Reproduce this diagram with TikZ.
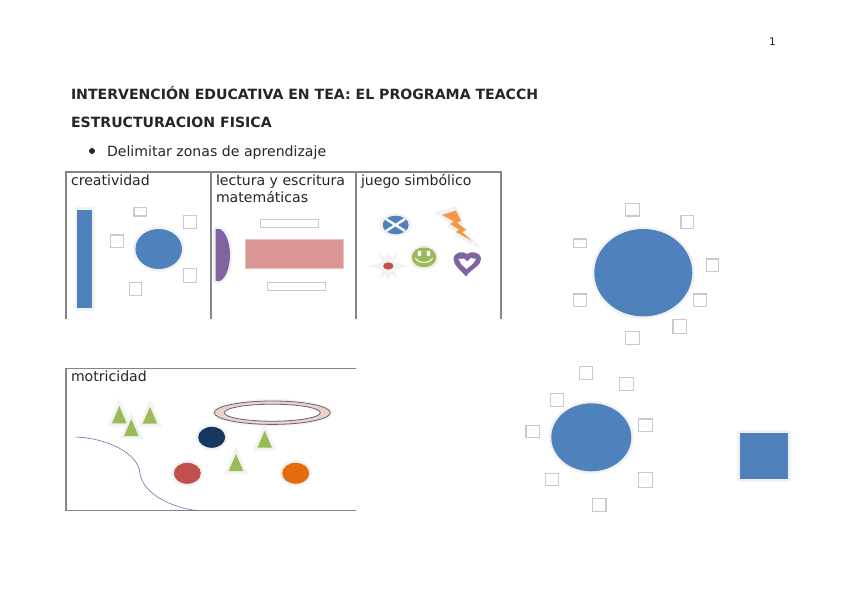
\documentclass[tikz,border=0pt]{standalone}
\usepackage{fontspec}
\setmainfont{DejaVu Sans}
\definecolor{cBlue}{HTML}{4F81BD}
\definecolor{cPurple}{HTML}{8064A2}
\definecolor{cPink}{HTML}{D99694}
\definecolor{cGreen}{HTML}{9BBB59}
\definecolor{cNavy}{HTML}{17375E}
\definecolor{cRed}{HTML}{C0504D}
\definecolor{cOrange}{HTML}{E46C0A}
\definecolor{cBolt}{HTML}{F79646}
\definecolor{cGlow}{HTML}{F2F2F2}
\definecolor{cBox}{HTML}{CACACA}
\definecolor{cRule}{HTML}{858585}
\tikzset{
  txt/.style={anchor=base west,inner sep=0pt,outer sep=0pt,text=black!85,font=\fontsize{14.1}{16}\selectfont},
  ttl/.style={txt,font=\fontsize{14.1}{16}\selectfont\bfseries},
  rulel/.style={draw=cRule,line width=1.2pt},
  bx/.style={draw=cBox,line width=1.3pt,fill=white},
  glow/.style={preaction={draw=cGlow,line width=5pt,line join=round}},
  solid blue/.style={glow,fill=cBlue}
}
\newcommand{\bxr}[4]{\draw[bx] (#1,#3) rectangle (#2,#4);}
\newcommand{\tria}[3]{\draw[draw=cGlow,line width=6pt,line join=miter] (#1,#2) -- (#1-7.3,#3) -- (#1+7.3,#3) -- cycle;\fill[cGreen] (#1,#2) -- (#1-7.3,#3) -- (#1+7.3,#3) -- cycle;}
\begin{document}
\begin{tikzpicture}[x=1pt,y=-1pt]
\useasboundingbox[fill=white] (0,0) rectangle (848,599);
% header text
\node[txt,font=\fontsize{10.5}{12}\selectfont] (pagenum) at (769,45.5) {1};
\node[ttl] (title) at (71,99.5) {INTERVENCIÓN EDUCATIVA EN TEA: EL PROGRAMA TEACCH};
\node[ttl] (sub) at (71,127.5) {ESTRUCTURACION FISICA};
\fill[black!85] (92,151) circle (3pt);
\node[txt] (bullet) at (107,156) {Delimitar zonas de aprendizaje};
% table
\draw[rulel] (66,319) -- (66,172) -- (501,172) -- (501,319);
\draw[rulel] (211,172) -- (211,319);
\draw[rulel] (356,172) -- (356,319);
\node[txt] (l1) at (71,185) {creatividad};
\node[txt] (l2) at (216,185) {lectura y escritura};
\node[txt] (l2b) at (216,202.5) {matemáticas};
\node[txt] (l3) at (361,185) {juego simbólico};
% creatividad
\path[solid blue] (77.3,209.7) rectangle (92.3,308.3);
\path[solid blue] (158.7,249) ellipse (23.3 and 20);
\bxr{134}{146.7}{207.7}{216}
\bxr{183.3}{196.7}{215.7}{228.3}
\bxr{110.3}{123.3}{235}{247.3}
\bxr{183.3}{196.7}{268.3}{282.3}
\bxr{129.3}{141.7}{282.3}{295.7}
% lectura
\path[glow,fill=cPurple] (215.7,229) -- (220,229) .. controls (226,232) and (230,243) .. (230,255) .. controls (230,267) and (226,278) .. (220,281) -- (215.7,281) -- cycle;
\draw[draw=cPink!60,line width=.6pt,fill=cPink] (245.3,239) rectangle (343.3,268);
\bxr{260.3}{318.7}{219.7}{227.3}
\bxr{267.3}{325.7}{282.3}{290.3}
% juego
\fill[cGlow] (395.7,225) ellipse (16 and 11.5);
\fill[cBlue] (395.7,225) ellipse (13 and 9.3);
\draw[white,line width=2.4pt] (386,219) -- (405,231) (405,219) -- (386,231);
\draw[draw=cGlow,fill=cGlow,line width=3pt,line join=round] (436,213) -- (456,208) -- (462,222) -- (459,223) -- (466,230) -- (464,232) -- (478,246) -- (456,235) -- (458,232) -- (449,226) -- (453,223) -- cycle;
\fill[cBolt] (442,215) -- (456,210.5) -- (461,221) -- (457,222.5) -- (466,230) -- (462,232) -- (472,241) -- (456,232) -- (459,229.5) -- (450,224) -- (454,221.5) -- cycle;
\fill[cGlow] (368,266) -- (383,262) -- (379,253) -- (386,258) -- (388.3,252) -- (391,258) -- (398,253) -- (394,262) -- (409,266) -- (394,270) -- (398,279) -- (391,274) -- (388.3,281) -- (386,274) -- (379,279) -- (383,270) -- cycle;
\fill[cRed] (388.3,266) ellipse (5.2 and 3.6);
\fill[cGlow] (424,257.3) ellipse (15 and 12.5);
\fill[cGreen] (424,257.3) ellipse (12.3 and 10);
\fill[white] (419.5,253.5) ellipse (2 and 3) (428.5,253.5) ellipse (2 and 3);
\draw[white,line width=1pt] (415.5,258) .. controls (418,264) and (430,264) .. (432.5,258);
\fill[cPurple] (466,276.5) .. controls (461,270) and (453.5,266) .. (453.5,259) .. controls (453.5,252) and (463,250.5) .. (467,254) .. controls (471,250.5) and (481,252) .. (481,259) .. controls (481,266) and (472,268) .. (466,276.5) -- cycle;
\fill[white] (458.5,259) -- (464,258.5) -- (467,261.5) -- (471,258) -- (476,259) -- (473,263.5) -- (466.5,269) -- (461,264) -- cycle;
% motricidad
\draw[rulel] (356,368.3) -- (66,368.3) -- (66,510.7) -- (356,510.7);
\node[txt] (l4) at (71,381) {motricidad};
\tria{119.3}{406}{423.3}
\tria{150}{406.7}{423.7}
\tria{131.3}{419}{436}
\tria{264.7}{430.7}{447.7}
\tria{236}{454}{471}
\draw[draw=cGlow,line width=2pt] (272.3,412.7) ellipse (59 and 12.5);
\draw[draw=black!60,line width=.8pt,fill=cPink!45,even odd rule] (272.3,412.7) ellipse (58 and 11.7) (272.3,412.7) ellipse (48 and 8.5);
\path[glow,fill=cNavy] (211.7,437.3) ellipse (13.5 and 10.5);
\path[glow,fill=cRed] (187.3,473.3) ellipse (13.5 and 10.5);
\path[glow,fill=cOrange] (295.7,473.3) ellipse (13.5 and 10.5);
\draw[cPurple!70!cBlue,line width=.6pt] (75.7,437) .. controls (105,438) and (138,452) .. (140,473.3) .. controls (142,492) and (170,508) .. (198.3,510.7);
% big circle 1
\path[solid blue] (643.3,272.7) ellipse (49 and 43.7);
\bxr{625.7}{639.3}{203.3}{216}
\bxr{681}{693.7}{215.3}{228.3}
\bxr{573.3}{586.7}{239}{247.3}
\bxr{706.3}{718.7}{259}{271.3}
\bxr{573.3}{586.7}{294}{306.7}
\bxr{693.3}{706.7}{294}{306.7}
\bxr{673}{686.7}{319.3}{333.3}
\bxr{625.7}{639.3}{331.3}{344.7}
% big circle 2
\path[solid blue] (591.3,437.3) ellipse (40 and 34);
\bxr{579.3}{592.7}{366.7}{379.3}
\bxr{619.7}{633.3}{377.7}{390.3}
\bxr{550.3}{563.7}{393.7}{406.3}
\bxr{638.7}{652.3}{419}{431.3}
\bxr{526}{539.3}{425.3}{437.3}
\bxr{545.3}{558.7}{473.3}{485.7}
\bxr{638.7}{652.3}{472.3}{487.7}
\bxr{592.7}{606}{498.3}{511.3}
\path[solid blue] (739.7,432.7) rectangle (788.3,479);
\end{tikzpicture}
\end{document}
